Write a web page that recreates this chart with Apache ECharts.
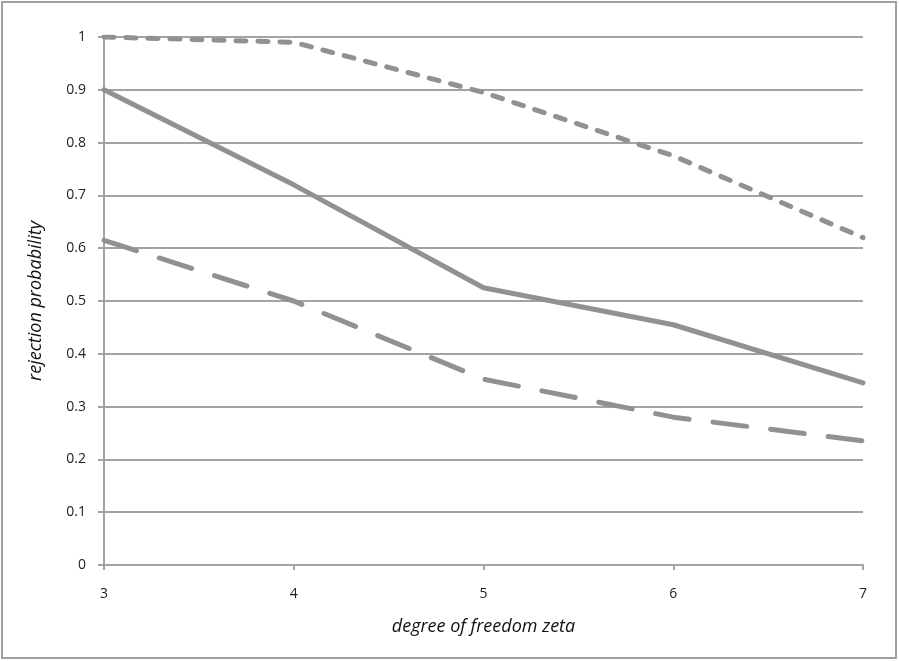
<!DOCTYPE html>
<html>
<head>
<meta charset="utf-8">
<script src="https://cdn.jsdelivr.net/npm/echarts@6/dist/echarts.min.js"></script>
<style>
  html, body { margin: 0; padding: 0; background: #fff; }
  #chart { width: 899px; height: 661px; }
</style>
</head>
<body>
<div id="chart"></div>
<script>
// degrees of freedom on the x axis
const degrees = ['3', '4', '5', '6', '7']
// rejection probabilities
const shortDashed = [1.0, 0.99, 0.895, 0.775, 0.62]
const solid = [0.9, 0.72, 0.525, 0.455, 0.345]
const longDashed = [0.615, 0.5, 0.352, 0.28, 0.235]

const lineColor = '#919191'
const axisColor = '#a3a3a3'
const font = '"Open Sans", "Liberation Sans", sans-serif'

const chart = echarts.init(document.getElementById('chart'))

function line(name, data, dash) {
  return {
    name: name,
    type: 'line',
    data: data,
    symbol: 'none',
    animation: false,
    lineStyle: {
      color: lineColor,
      width: 5,
      type: dash,
      cap: 'round',
      join: 'round'
    }
  }
}

chart.setOption({
  backgroundColor: '#fff',
  graphic: [
    {
      type: 'rect',
      shape: { x: 2, y: 2, width: 894, height: 656 },
      style: { fill: 'none', stroke: '#a0a0a0', lineWidth: 2 },
      silent: true
    }
  ],
  grid: { left: 104, right: 36, top: 37, bottom: 96 },
  xAxis: {
    type: 'category',
    data: degrees,
    boundaryGap: false,
    name: 'degree of freedom zeta',
    nameLocation: 'middle',
    nameGap: 53,
    nameTextStyle: { fontFamily: font, fontStyle: 'italic', fontSize: 18, color: '#111' },
    axisLine: { lineStyle: { color: axisColor, width: 2 } },
    axisTick: { show: true, length: 5, lineStyle: { color: axisColor, width: 2 } },
    axisLabel: { margin: 22, fontFamily: font, fontSize: 14, color: '#222' },
    splitLine: { show: false }
  },
  yAxis: {
    type: 'value',
    min: 0,
    max: 1,
    interval: 0.1,
    name: 'rejection probability',
    nameLocation: 'middle',
    nameGap: 59,
    nameRotate: 90,
    nameTextStyle: { fontFamily: font, fontStyle: 'italic', fontSize: 18, color: '#111' },
    axisLine: { show: true, lineStyle: { color: axisColor, width: 2 } },
    axisTick: { show: true, length: 6, lineStyle: { color: axisColor, width: 2 } },
    axisLabel: {
      margin: 18,
      fontFamily: font,
      fontSize: 14,
      color: '#222',
      formatter: function (v) { return String(Math.round(v * 10) / 10) }
    },
    splitLine: { lineStyle: { color: axisColor, width: 2 } }
  },
  series: [
    line('short dashed', shortDashed, [10, 12]),
    line('solid', solid, 'solid'),
    line('long dashed', longDashed, [34, 24])
  ]
})
</script>
</body>
</html>
